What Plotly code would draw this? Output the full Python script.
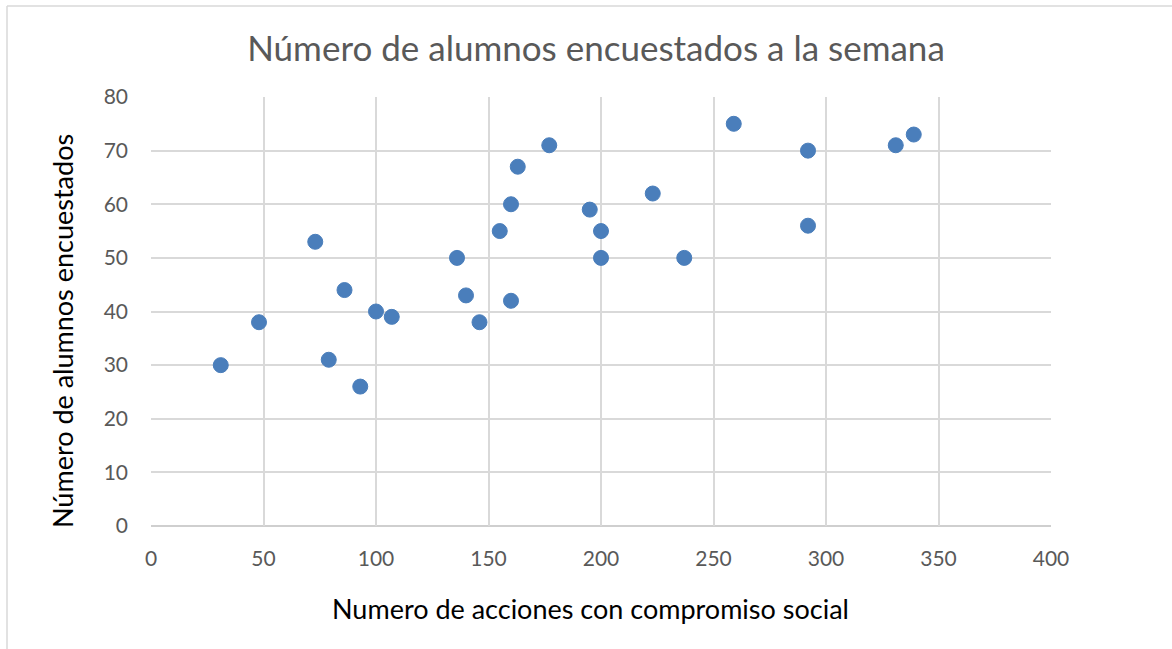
import plotly.graph_objects as go

# Acciones con compromiso social (x) vs alumnos encuestados (y)
acciones = [31, 48, 73, 86, 79, 93, 100, 107, 136, 140, 146, 155, 160, 160,
            163, 177, 195, 200, 200, 223, 237, 259, 292, 292, 331, 339]
alumnos = [30, 38, 53, 44, 31, 26, 40, 39, 50, 43, 38, 55, 60, 42,
           67, 71, 59, 55, 50, 62, 50, 75, 70, 56, 71, 73]

titulo = "Número de alumnos encuestados a la semana"
titulo_x = "Numero de acciones con compromiso social"
titulo_y = "Número de alumnos encuestados"

W, H = 1172, 649
L, R, T, B = 151, 121, 97, 123
pw, ph = W - L - R, H - T - B


def px(x):
    return (x - L) / pw


def py(y):
    return (H - B - y) / ph


fig = go.Figure(
    go.Scatter(
        x=acciones, y=alumnos, mode="markers",
        marker=dict(size=15, color="#4a7ebb", line=dict(width=1, color="#4a7ebb")),
        showlegend=False, cliponaxis=False,
    )
)

grid = "#d9d9d9"
font = "Lato, 'Open Sans', sans-serif"
fig.update_layout(
    width=W, height=H,
    margin=dict(l=L, r=R, t=T, b=B),
    paper_bgcolor="white", plot_bgcolor="white",
    font=dict(family=font, color="#595959"),
    title=dict(text=titulo, xref="container", x=596 / W, xanchor="center",
               y=1 - 49 / H, yanchor="middle",
               font=dict(size=35, color="#595959", family=font)),
    xaxis=dict(range=[0, 400], dtick=50, showgrid=True, gridcolor=grid, gridwidth=1.5,
               zeroline=False, showline=False, ticks="", tickfont=dict(size=21, color="#595959"),
               ticklabelstandoff=18),
    yaxis=dict(range=[0, 80], dtick=10, showgrid=True, gridcolor=grid, gridwidth=1.5,
               zeroline=False, showline=False, ticks="", tickfont=dict(size=21, color="#595959"),
               ticklabelstandoff=22),
    annotations=[
        dict(text=titulo_x, xref="paper", yref="paper", x=px(590), y=py(608),
             xanchor="center", yanchor="middle", showarrow=False,
             font=dict(size=27, color="black", family=font)),
        dict(text=titulo_y, xref="paper", yref="paper", x=px(62), y=py(331),
             xanchor="center", yanchor="middle", showarrow=False, textangle=-90,
             font=dict(size=27, color="black", family=font)),
    ],
    shapes=[
        # chart frame
        dict(type="line", xref="paper", yref="paper", x0=px(7), x1=px(7), y0=py(6), y1=py(H),
             line=dict(color="#d9d9d9", width=1.5)),
        dict(type="line", xref="paper", yref="paper", x0=px(7), x1=px(W), y0=py(6), y1=py(6),
             line=dict(color="#d9d9d9", width=1.5)),
        # horizontal axis line
        dict(type="line", xref="paper", yref="paper", x0=0, x1=1, y0=0, y1=0,
             line=dict(color="#bfbfbf", width=1.5), layer="below"),
    ],
)

fig.write_html("out.html")
